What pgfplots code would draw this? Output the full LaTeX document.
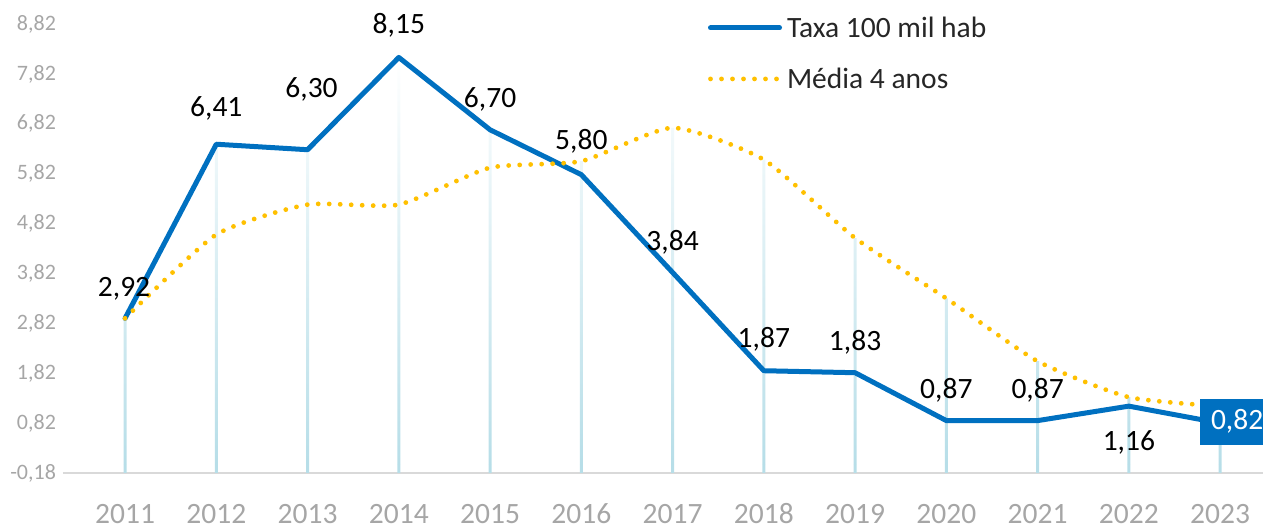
\documentclass[border=0pt]{standalone}
\usepackage{fontspec}
\setmainfont{Carlito}
\usepackage{pgfplots}
\usepackage{pgfplotstable}
\pgfplotsset{compat=1.18}
\definecolor{taxablue}{HTML}{0070C0}
\definecolor{mediayellow}{HTML}{FFC000}
\definecolor{dropblue}{HTML}{B7DEE8}
\definecolor{axisgray}{HTML}{D9D9D9}
\definecolor{ticklab}{HTML}{A6A6A6}
\definecolor{legtext}{HTML}{262626}

\pgfplotstableread{
x y dx dy lab
2011 2.92 -0.5 15 2,92
2012 6.41 0 18 6,41
2013 6.30 2 30 6,30
2014 8.15 0 16 8,15
2015 6.70 0 15 6,70
2016 5.80 0 16.5 5,80
2017 3.84 0 15 3,84
2018 1.87 0 15.5 1,87
2019 1.83 0 15 1,83
2020 0.87 0 15 0,87
2021 0.87 0 15 0,87
2022 1.16 0 -18 1,16
2023 0.82 8.5 0.75 0,82
}\taxa

\pgfplotstableread{
x y
2011 2.92
2012 4.60
2013 5.20
2014 5.20
2015 5.94
2016 6.07
2017 6.74
2018 6.10
2019 4.53
2020 3.32
2021 2.06
2022 1.34
2023 1.16
}\media

\pgfplotstableread{
x top base
2011 2.92 -0.18
2012 6.41 -0.18
2013 6.30 -0.18
2014 8.15 -0.18
2015 6.70 -0.18
2016 6.07 -0.18
2017 6.74 -0.18
2018 6.10 -0.18
2019 4.53 -0.18
2020 3.32 -0.18
2021 2.06 -0.18
2022 1.34 -0.18
2023 1.16 -0.18
}\drops

\newcommand{\bigfont}{\fontsize{14.75}{17}\selectfont}

\begin{document}
\begin{tikzpicture}
\begin{axis}[
  at={(0,0)}, anchor=south west,
  scale only axis, width=600pt, height=224.5pt,
  xmin=2010.32, xmax=2023.47, ymin=-0.18, ymax=8.82,
  clip=false,
  axis x line*=bottom, axis y line*=left,
  x axis line style={draw=axisgray, line width=1pt},
  y axis line style={draw=none},
  major tick length=0pt,
  xtick={2011,2012,2013,2014,2015,2016,2017,2018,2019,2020,2021,2022,2023},
  xticklabels={2011,2012,2013,2014,2015,2016,2017,2018,2019,2020,2021,2022,2023},
  xticklabel style={font=\bigfont, text=ticklab, anchor=base, yshift=-25.5pt},
  ytick={-0.18,0.82,1.82,2.82,3.82,4.82,5.82,6.82,7.82,8.82},
  /pgf/number format/assume math mode=true,
  yticklabel style={font=\fontsize{11}{13}\selectfont, text=ticklab, /pgf/number format/.cd, fixed, fixed zerofill, precision=2, use comma},
  legend cell align=left,
  legend style={at={(rel axis cs:0.5375,1.018)}, anchor=north west, draw=none, fill=none,
    inner sep=0pt, outer sep=0pt, row sep=11.5pt, column sep=2.5pt,
    font=\bigfont, text=legtext, cells={anchor=base west},
    nodes={inner sep=0pt, text height=11pt, text depth=3pt}},
  legend image code/.code={\draw[#1] (0pt,5pt) -- (34.5pt,5pt);},
]
% drop lines
\addplot[ybar, forget plot, bar width=1.5pt, bar shift=0pt, draw=none,
  top color=white, bottom color=dropblue] table[x=x, y=top]{\drops};
\addplot[ybar, forget plot, bar width=1.5pt, bar shift=0pt, draw=none,
  fill=dropblue] table[x=x, y=base]{\drops};
% series
\addplot[taxablue, line width=2.5pt, line join=round, line cap=round] table[x=x, y=y]{\taxa};
\addlegendentry{Taxa 100 mil hab}
\addplot[mediayellow, line width=2.4pt, smooth, tension=0.35, dash pattern=on 0pt off 5.5pt, line cap=round] table[x=x, y=y]{\media};
\addlegendentry{Média 4 anos}
% labels
\addplot[draw=none, forget plot, nodes near coords, point meta=explicit symbolic,
  visualization depends on={\thisrow{dx}\as\dx},
  visualization depends on={\thisrow{dy}\as\dy},
  skip coords between index={12}{13},
  nodes near coords style={anchor=center, xshift=\dx pt, yshift=\dy pt, font=\bigfont, text=black, inner sep=0pt}]
  table[x=x, y=y, meta=lab]{\taxa};
\addplot[draw=none, forget plot, nodes near coords, point meta=explicit symbolic,
  skip coords between index={0}{12},
  nodes near coords style={anchor=center, xshift=8.5pt, yshift=0.75pt, fill=taxablue, text=white, inner sep=5.5pt, font=\bigfont}]
  table[x=x, y=y, meta=lab]{\taxa};
\end{axis}
\pgfresetboundingbox
\useasboundingbox (-31.5pt,-28pt) rectangle (600pt,236.5pt);
\end{tikzpicture}
\end{document}
